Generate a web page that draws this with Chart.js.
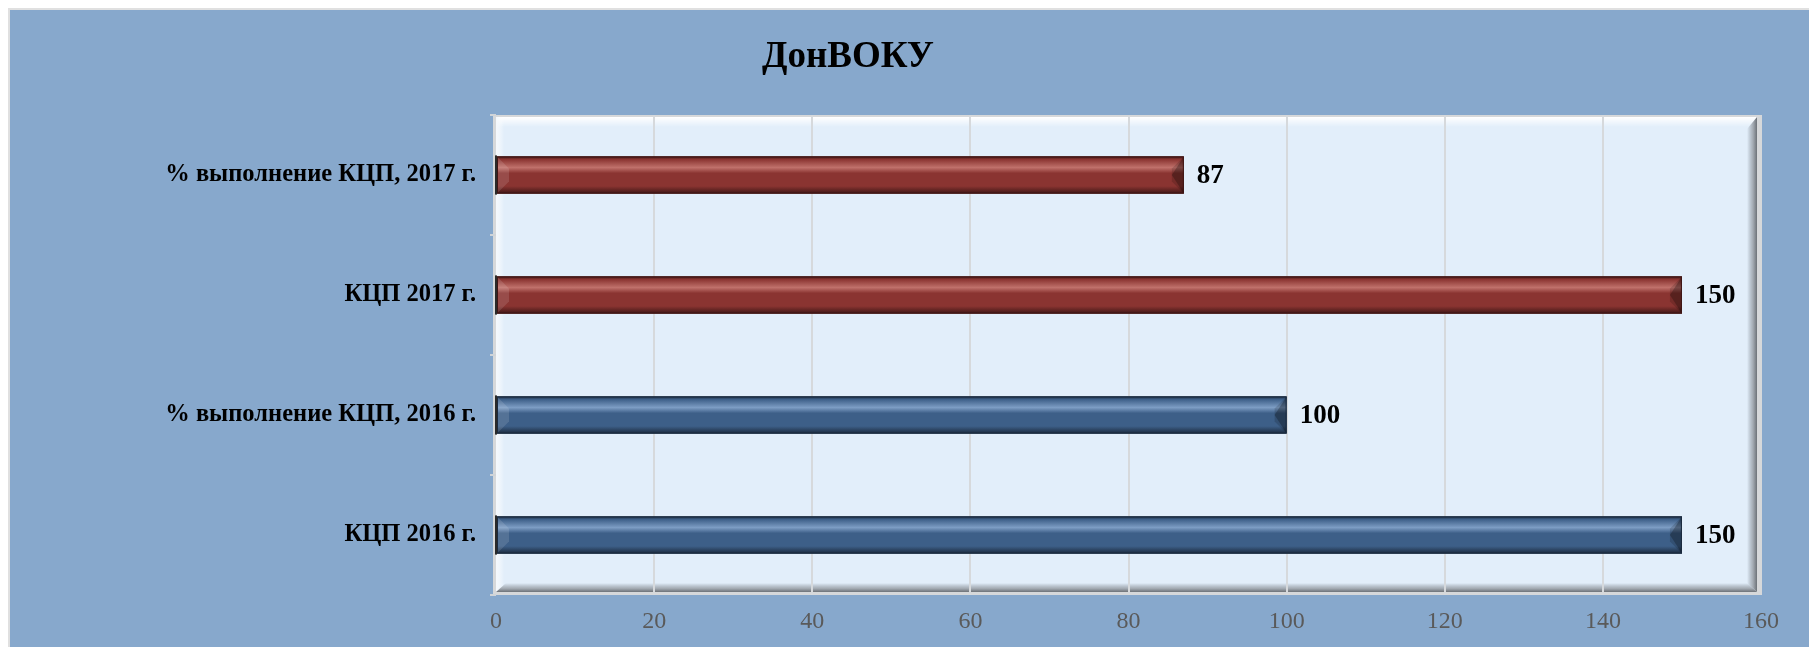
<!DOCTYPE html>
<html>
<head>
<meta charset="utf-8">
<script src="https://cdn.jsdelivr.net/npm/chart.js@4"></script>
<style>
    html, body { margin: 0; padding: 0; background: #ffffff; }
    #wrap { width: 1809px; height: 647px; }
</style>
</head>
<body>
<div id="wrap"><canvas id="donvokuChart" width="1809" height="647"></canvas></div>
<script>
// Данные диаграммы
const chartTitle = 'ДонВОКУ';
const categories = ['% выполнение КЦП, 2017 г.', 'КЦП 2017 г.', '% выполнение КЦП, 2016 г.', 'КЦП 2016 г.'];
const values = [87, 150, 100, 150];
const barYears = ['2017', '2017', '2016', '2016'];
const xTicks = [0, 20, 40, 60, 80, 100, 120, 140, 160];

const yearColors = { '2017': '#8a3431', '2016': '#3d5f88' };
const yearLight = { '2017': '#c0716b', '2016': '#7d9dc4' };
const yearDark = { '2017': '#3e1615', '2016': '#1b2a3d' };

const SERIF = '"Liberation Serif", "Times New Roman", serif';

// фон, рамка и заголовок
const backgroundPlugin = {
    id: 'background',
    beforeDraw(chart) {
        const ctx = chart.ctx;
        const a = chart.chartArea;
        ctx.save();
        ctx.fillStyle = '#ffffff';
        ctx.fillRect(0, 0, chart.width, chart.height);
        ctx.fillStyle = '#e0e0e0';
        ctx.fillRect(8, 8, chart.width - 8, chart.height - 8);
        ctx.fillStyle = '#87a8cc';
        ctx.fillRect(10, 10, chart.width - 10, chart.height - 10);

        // стенка области построения
        ctx.fillStyle = '#d6d8da';
        ctx.fillRect(a.left - 3, a.top, a.right - a.left + 4, a.bottom - a.top);
        ctx.fillStyle = '#e2eefa';
        ctx.fillRect(a.left, a.top + 2, a.right - a.left - 4, a.bottom - a.top - 5);

        // верх/лево светлые
        let g = ctx.createLinearGradient(0, a.top + 2, 0, a.top + 12);
        g.addColorStop(0, '#ffffff');
        g.addColorStop(1, 'rgba(255,255,255,0)');
        ctx.fillStyle = g;
        ctx.fillRect(a.left, a.top + 2, a.right - a.left - 4, 10);
        g = ctx.createLinearGradient(a.left, 0, a.left + 8, 0);
        g.addColorStop(0, '#f4f8fc');
        g.addColorStop(1, 'rgba(255,255,255,0)');
        ctx.fillStyle = g;
        ctx.fillRect(a.left, a.top + 2, 8, a.bottom - a.top - 5);

        // правая и нижняя тень
        g = ctx.createLinearGradient(a.right - 14, 0, a.right - 4, 0);
        g.addColorStop(0, 'rgba(150,160,170,0)');
        g.addColorStop(0.6, '#a4abb3');
        g.addColorStop(1, '#6d7278');
        ctx.fillStyle = g;
        ctx.beginPath();
        ctx.moveTo(a.right - 14, a.top + 14);
        ctx.lineTo(a.right - 4, a.top + 2);
        ctx.lineTo(a.right - 4, a.bottom - 3);
        ctx.lineTo(a.right - 14, a.bottom - 12);
        ctx.closePath();
        ctx.fill();
        g = ctx.createLinearGradient(0, a.bottom - 12, 0, a.bottom - 3);
        g.addColorStop(0, 'rgba(150,160,170,0)');
        g.addColorStop(0.6, '#a4abb3');
        g.addColorStop(1, '#6d7278');
        ctx.fillStyle = g;
        ctx.beginPath();
        ctx.moveTo(a.left + 10, a.bottom - 12);
        ctx.lineTo(a.right - 14, a.bottom - 12);
        ctx.lineTo(a.right - 4, a.bottom - 3);
        ctx.lineTo(a.left, a.bottom - 3);
        ctx.closePath();
        ctx.fill();

        // заголовок
        ctx.fillStyle = '#000000';
        ctx.font = 'bold 37px ' + SERIF;
        ctx.textAlign = 'center';
        ctx.textBaseline = 'alphabetic';
        ctx.fillText(chartTitle, 848, 67);
        ctx.restore();
    }
};

// объём столбиков и подписи значений
const barStylePlugin = {
    id: 'barStyle',
    afterDatasetsDraw(chart) {
        const ctx = chart.ctx;
        const meta = chart.getDatasetMeta(0);
        ctx.save();
        meta.data.forEach((bar, i) => {
            const p = bar.getProps(['x', 'y', 'base', 'height'], true);
            const yr = barYears[i];
            const top = p.y - p.height / 2;
            const bottom = p.y + p.height / 2;
            const left = p.base;
            const right = p.x;
            const g = ctx.createLinearGradient(0, top, 0, bottom);
            g.addColorStop(0, yearDark[yr]);
            g.addColorStop(0.08, yearColors[yr]);
            g.addColorStop(0.3, yearLight[yr]);
            g.addColorStop(0.45, yearColors[yr]);
            g.addColorStop(0.8, yearColors[yr]);
            g.addColorStop(1, yearDark[yr]);
            ctx.fillStyle = g;
            ctx.fillRect(left, top, right - left, bottom - top);

            // скос на торцах
            const b = 12;
            ctx.fillStyle = 'rgba(0,0,0,0.25)';
            ctx.beginPath();
            ctx.moveTo(right, top);
            ctx.lineTo(right - b, p.y);
            ctx.lineTo(right, bottom);
            ctx.closePath();
            ctx.fill();
            ctx.fillStyle = 'rgba(0,0,0,0.15)';
            ctx.beginPath();
            ctx.moveTo(right, top);
            ctx.lineTo(right - b, top + b);
            ctx.lineTo(right - b, bottom - b);
            ctx.lineTo(right, bottom);
            ctx.closePath();
            ctx.fill();
            ctx.fillStyle = 'rgba(255,255,255,0.12)';
            ctx.beginPath();
            ctx.moveTo(left, top);
            ctx.lineTo(left + b, top + b);
            ctx.lineTo(left + b, bottom - b);
            ctx.lineTo(left, bottom);
            ctx.closePath();
            ctx.fill();
            ctx.strokeStyle = yearDark[yr];
            ctx.lineWidth = 1;
            ctx.strokeRect(left + 0.5, top + 0.5, right - left - 1, bottom - top - 1);
            ctx.fillStyle = '#2a2a2a';
            ctx.fillRect(left - 2, top - 1, 2, bottom - top + 2);

            // значение
            ctx.fillStyle = '#000000';
            ctx.font = 'bold 27px ' + SERIF;
            ctx.textAlign = 'left';
            ctx.textBaseline = 'middle';
            ctx.fillText(String(values[i]), right + 13, p.y + 1);
        });
        ctx.restore();
    }
};

document.addEventListener('DOMContentLoaded', function() {
    drawChart();
});

function drawChart() {
    const ctx = document.getElementById('donvokuChart').getContext('2d');
    new Chart(ctx, {
        type: 'bar',
        data: {
            labels: categories,
            datasets: [{
                data: values,
                backgroundColor: barYears.map(y => yearColors[y]),
                borderWidth: 0,
                categoryPercentage: 1,
                barPercentage: 0.31
            }]
        },
        options: {
            indexAxis: 'y',
            responsive: false,
            animation: false,
            devicePixelRatio: 1,
            layout: {
                padding: { top: 115, right: 48, bottom: 0, left: 0 }
            },
            scales: {
                x: {
                    min: 0,
                    max: 160,
                    afterBuildTicks: function(scale) {
                        scale.ticks = xTicks.map(v => ({ value: v }));
                    },
                    afterFit: function(scale) { scale.height = 52; },
                    grid: {
                        color: function(c) {
                            return (c.tick.value === 0 || c.tick.value === 160) ? 'rgba(0,0,0,0)' : '#d6d9dc';
                        },
                        lineWidth: 2,
                        drawTicks: false
                    },
                    border: { display: false },
                    ticks: {
                        color: '#5a5a5a',
                        font: { family: SERIF, size: 24 },
                        padding: 12
                    }
                },
                y: {
                    afterFit: function(scale) { scale.width = 496; },
                    grid: {
                        offset: true,
                        drawOnChartArea: false,
                        tickLength: 6,
                        color: '#d0d4d8',
                        lineWidth: 2
                    },
                    border: { display: false },
                    ticks: {
                        color: '#000000',
                        font: { family: SERIF, size: 24.5, weight: 'bold' },
                        padding: 14
                    }
                }
            },
            plugins: {
                legend: { display: false },
                title: { display: false },
                tooltip: { enabled: false }
            }
        },
        plugins: [backgroundPlugin, barStylePlugin]
    });
}
</script>
</body>
</html>
